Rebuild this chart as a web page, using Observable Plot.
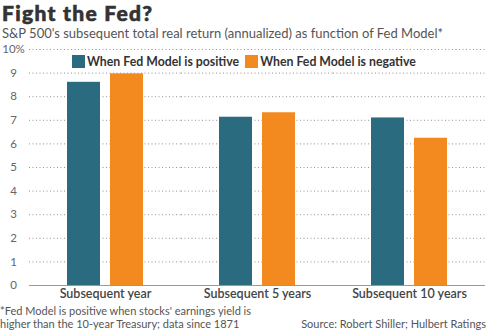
<!DOCTYPE html>
<html><head><meta charset="utf-8">
<script src="https://cdn.jsdelivr.net/npm/d3@7"></script>
<script src="https://cdn.jsdelivr.net/npm/@observablehq/plot@0.6"></script>
<style>
body{margin:0;background:#fff;font-family:Lato,"Open Sans",sans-serif;}
#wrap{position:relative;width:500px;height:332px;overflow:hidden;}
#title{position:absolute;left:2px;top:0px;font-size:21px;line-height:normal;font-weight:900;color:#333;letter-spacing:1.3px;-webkit-text-stroke:0.6px #333;}
#sub{position:absolute;left:2px;top:25.4px;font-size:13px;line-height:normal;color:#555;white-space:nowrap;}
#chart{position:absolute;left:0;top:40px;}
#legend{position:absolute;left:72px;top:54px;font-size:12.3px;font-weight:bold;color:#333;display:flex;align-items:center;white-space:nowrap;}
#legend span.sw{display:inline-block;width:13px;height:13px;margin-right:2px;}
#legend span.item{display:flex;align-items:center;margin-right:6px;}
#note{position:absolute;left:0;top:304px;font-size:11px;color:#555;line-height:13px;}
#src{position:absolute;right:14px;top:317px;font-size:11px;color:#555;line-height:13px;}
</style></head>
<body>
<div id="wrap">
<div id="title"></div>
<div id="sub"></div>
<div id="chart"></div>
<div id="legend"></div>
<div id="note"></div>
<div id="src"></div>
</div>
<script>
const titleText = "Fight the Fed?";
const subtitleText = "S&P 500's subsequent total real return (annualized) as function of Fed Model*";
const categories = ["Subsequent year", "Subsequent 5 years", "Subsequent 10 years"];
const series = ["When Fed Model is positive", "When Fed Model is negative"];
const positive = [8.61, 7.13, 7.10];
const negative = [8.97, 7.32, 6.24];
const yTicks = [0, 1, 2, 3, 4, 5, 6, 7, 8, 9, 10];
const colors = ["#2a6b80", "#f38a1f"];
const noteLines = ["*Fed Model is positive when stocks' earnings yield is", "higher than the 10-year Treasury; data since 1871"];
const sourceText = "Source: Robert Shiller; Hulbert Ratings";

document.getElementById("title").textContent = titleText;
document.getElementById("sub").textContent = subtitleText;
document.getElementById("note").innerHTML = noteLines.join("<br>");
document.getElementById("src").textContent = sourceText;
const leg = document.getElementById("legend");
series.forEach((s, i) => {
  const it = document.createElement("span"); it.className = "item";
  const sw = document.createElement("span"); sw.className = "sw"; sw.style.background = colors[i];
  it.appendChild(sw); it.appendChild(document.createTextNode(s));
  leg.appendChild(it);
});

const data = [];
categories.forEach((c, i) => {
  data.push({cat: c, series: series[0], value: positive[i]});
  data.push({cat: c, series: series[1], value: negative[i]});
});

const chart = Plot.plot({
  width: 500,
  height: 265,
  marginLeft: 28,
  marginRight: 14,
  marginTop: 9,
  marginBottom: 20,
  style: {fontFamily: "Lato, 'Open Sans', sans-serif", background: "transparent"},
  fx: {domain: categories, padding: 0, label: null},
  x: {domain: series, paddingInner: 0.227, paddingOuter: 0.85, axis: null},
  y: {domain: [0, 10], label: null},
  color: {domain: series, range: colors},
  marks: [
    Plot.gridY(yTicks.filter(d => d > 0), {stroke: "#888", strokeOpacity: 0.9, strokeDasharray: "1,2.5", strokeWidth: 1}),
    Plot.axisY(yTicks, {tickSize: 0, tickPadding: 16, textAnchor: "middle", fontSize: 11.5, fill: "#666", label: null,
      tickFormat: d => d === 10 ? "10%" : String(d)}),
    Plot.barY(data, {fx: "cat", x: "series", y: "value", fill: "series"}),
    Plot.ruleY([0], {stroke: "#999", strokeWidth: 1.2}),
    Plot.axisFx({anchor: "bottom", tickSize: 0, tickPadding: 4, fontSize: 12.5, fontWeight: 600, fill: "#444", label: null})
  ]
});
document.getElementById("chart").appendChild(chart);
</script>
</body></html>
